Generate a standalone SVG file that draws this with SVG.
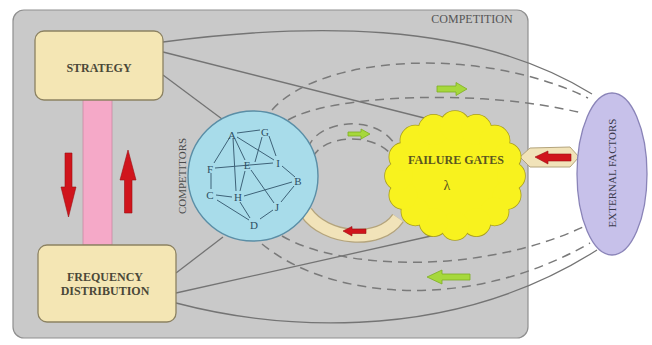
<svg xmlns="http://www.w3.org/2000/svg" xmlns:xlink="http://www.w3.org/1999/xlink" width="652" height="345" viewBox="0 0 652 345">
<style>
.panel{fill:#c9c9c9;stroke:#8f8f8f;stroke-width:1.2}
.box{fill:#f4e6b4;stroke:#8c8262;stroke-width:1.3}
.boxtxt{font-family:"Liberation Serif",serif;font-weight:bold;font-size:12px;fill:#4a4838;text-anchor:middle}
.lbl{font-family:"Liberation Serif",serif;font-size:11px;fill:#4a4a4a;text-anchor:middle}
.solid{fill:none;stroke:#747474;stroke-width:1.3}
.dash{fill:none;stroke:#7a7a7a;stroke-width:1.5;stroke-dasharray:9 6}
.node-l{font-family:"Liberation Serif",serif;font-size:11px;fill:#2d4f63;text-anchor:middle}
.edge{stroke:#3e6278;stroke-width:1}
.red{fill:#d0141c;stroke:#9a0e12;stroke-width:0.6}
.green{fill:#a6d83c;stroke:#7fae22;stroke-width:0.8}
.beige{fill:#f1e3b9;stroke:#b4a47c;stroke-width:1}
.cloud-o{fill:#f8f21e;stroke:#a89e20;stroke-width:1.6}
.cloud-f{fill:#f8f21e;stroke:none}
</style>
<defs>
<g id="cloudShape">
<ellipse cx="455" cy="176" rx="56" ry="50"/>
<circle cx="511" cy="176" r="14"/>
<circle cx="506.7" cy="195.1" r="14"/>
<circle cx="494.6" cy="211.4" r="14"/>
<circle cx="476.4" cy="222.2" r="14"/>
<circle cx="455" cy="226" r="14"/>
<circle cx="433.6" cy="222.2" r="14"/>
<circle cx="415.4" cy="211.4" r="14"/>
<circle cx="403.3" cy="195.1" r="14"/>
<circle cx="399" cy="176" r="14"/>
<circle cx="403.3" cy="156.9" r="14"/>
<circle cx="415.4" cy="140.6" r="15"/>
<circle cx="433.6" cy="129.8" r="15"/>
<circle cx="455" cy="126" r="15"/>
<circle cx="476.4" cy="129.8" r="15"/>
<circle cx="494.6" cy="140.6" r="15"/>
<circle cx="506.7" cy="156.9" r="14"/>
</g>
</defs>
<rect width="652" height="345" fill="#ffffff"/>
<g id="competition">
<rect class="panel" x="13" y="10" width="515" height="328" rx="11"/>
<text x="472" y="23" font-family="Liberation Serif, serif" font-size="12" fill="#555" text-anchor="middle">COMPETITION</text>
</g>
<g id="connectors">
<path class="solid" d="M163 42 C300 24 470 18 592 94"/>
<line class="solid" x1="163" y1="52" x2="440" y2="122"/>
<line class="solid" x1="163" y1="75" x2="222" y2="119"/>
<line class="solid" x1="176" y1="273" x2="223" y2="237"/>
<line class="solid" x1="176" y1="293" x2="440" y2="234"/>
<path class="solid" d="M176 303 C260 325 440 350 597 250"/>
<path class="dash" d="M272 110 C320 55 480 45 588 98"/>
<path class="dash" d="M288 120 C330 95 480 88 582 113"/>
<path class="dash" d="M262 244 C330 300 470 312 590 243"/>
<path class="dash" d="M282 236 C340 270 480 275 583 227"/>
<path class="dash" d="M308 148 C318 118 385 112 399 153"/>
<path class="dash" d="M313 157 C325 133 380 132 395 160"/>
<path d="M306 212 C325 240 380 245 398 218" fill="none" stroke="#b4a47c" stroke-width="14"/>
<path d="M306 212 C325 240 380 245 398 218" fill="none" stroke="#f1e3b9" stroke-width="11.5"/>
<polygon class="beige" points="520,157 530,148 570,147 579,157 570,167 530,167"/>
</g>
<g id="frequency-link">
<rect x="83" y="99" width="29" height="146" fill="#f5a9c8" stroke="#c98aa2" stroke-width="0.8"/>
</g>
<g id="strategy">
<rect class="box" x="35" y="31" width="128" height="69" rx="9"/>
<text class="boxtxt" x="99" y="72">STRATEGY</text>
</g>
<g id="frequency-distribution">
<rect class="box" x="38" y="245" width="138" height="77" rx="9"/>
<text class="boxtxt" x="105" y="281">FREQUENCY</text>
<text class="boxtxt" x="105" y="295">DISTRIBUTION</text>
</g>
<g id="competitors">
<text class="lbl" transform="translate(186,176) rotate(-90)">COMPETITORS</text>
<circle cx="253" cy="176" r="65" fill="#a8dcea" stroke="#5a8ea6" stroke-width="1.4"/>
<g class="edge">
<line x1="237" y1="133" x2="260" y2="130"/>
<line x1="230" y1="137" x2="214" y2="163"/>
<line x1="233" y1="138" x2="236" y2="191"/>
<line x1="237" y1="137" x2="274" y2="160"/>
<line x1="235" y1="139" x2="245" y2="160"/>
<line x1="262" y1="137" x2="255" y2="162"/>
<line x1="269" y1="136" x2="276" y2="156"/>
<line x1="215" y1="168" x2="273" y2="163"/>
<line x1="211" y1="173" x2="211" y2="189"/>
<line x1="216" y1="195" x2="232" y2="197"/>
<line x1="217" y1="200" x2="249" y2="220"/>
<line x1="244" y1="196" x2="292" y2="182"/>
<line x1="240" y1="191" x2="245" y2="171"/>
<line x1="240" y1="202" x2="250" y2="218"/>
<line x1="251" y1="170" x2="274" y2="203"/>
<line x1="281" y1="202" x2="294" y2="186"/>
<line x1="260" y1="219" x2="273" y2="210"/>
<line x1="282" y1="166" x2="295" y2="177"/>
</g>
<text class="node-l" x="232" y="139">A</text>
<text class="node-l" x="265" y="136">G</text>
<text class="node-l" x="247" y="169">E</text>
<text class="node-l" x="278" y="167">I</text>
<text class="node-l" x="210" y="173">F</text>
<text class="node-l" x="298" y="185">B</text>
<text class="node-l" x="210" y="199">C</text>
<text class="node-l" x="238" y="201">H</text>
<text class="node-l" x="277" y="211">J</text>
<text class="node-l" x="254" y="229">D</text>
</g>
<g id="failure-gates">
<use xlink:href="#cloudShape" class="cloud-o"/>
<use xlink:href="#cloudShape" class="cloud-f"/>
<text x="456" y="164" font-family="Liberation Serif, serif" font-weight="bold" font-size="12" fill="#5a5620" text-anchor="middle">FAILURE GATES</text>
<text x="447" y="190" font-family="Liberation Serif, serif" font-size="14" fill="#5a5620" text-anchor="middle">λ</text>
</g>
<g id="external-factors">
<ellipse cx="612" cy="174" rx="35" ry="81" fill="#c7c1ea" stroke="#8a84b8" stroke-width="1.3"/>
<text class="lbl" transform="translate(616,173) rotate(-90)" style="fill:#3a3a4a">EXTERNAL FACTORS</text>
</g>
<g id="arrows">
<path class="red" d="M65 153 H72 V187 H76 L68.5 217 L61 187 H65 Z"/>
<path class="red" d="M124.5 213 H132 V180 H136 L128 150 L120 180 H124.5 Z"/>
<path class="red" d="M535 157 L548 151 V154 H571 V161 H548 V164 Z"/>
<path class="red" d="M343 231 L352 226.5 V229 H366 V233.5 H352 V236 Z"/>
<path class="green" d="M437 86 H456 V82.5 L467 89 L456 95.5 V92 H437 Z"/>
<path class="green" d="M470 274 H442 V270 L427 277 L442 284 V280 H470 Z"/>
<path class="green" d="M348 132 H361 V129 L370 134 L361 139 V136 H348 Z"/>
</g>
</svg>
